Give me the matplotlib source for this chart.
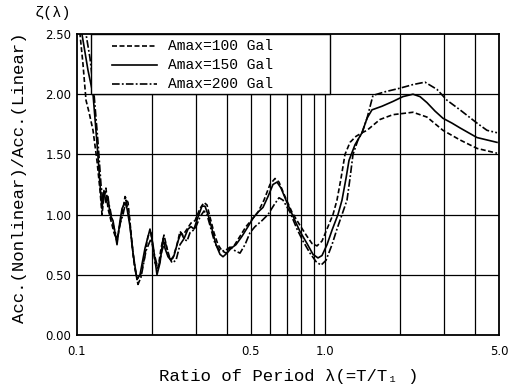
import matplotlib
matplotlib.use('Agg')
import matplotlib.pyplot as plt
from matplotlib.patches import Rectangle
from matplotlib.lines import Line2D
from matplotlib.ticker import FixedLocator, FixedFormatter, NullLocator

# ---------------- data ----------------
lam_100 = [0.1000, 0.1028, 0.1057, 0.1087, 0.1118, 0.1160, 0.1203, 0.1238, 0.1261, 0.1284,
           0.1308, 0.1333, 0.1370, 0.1409, 0.1449, 0.1490, 0.1532, 0.1561, 0.1605, 0.1650,
           0.1696, 0.1744, 0.1793, 0.1860, 0.1931, 0.1986, 0.2061, 0.2119, 0.2179, 0.2240,
           0.2304, 0.2369, 0.2435, 0.2527, 0.2598, 0.2672, 0.2773, 0.2877, 0.2986, 0.3127,
           0.3245, 0.3337, 0.3431, 0.3560, 0.3695, 0.3835, 0.3980, 0.4130, 0.4286, 0.4531,
           0.4790, 0.5064, 0.5353, 0.5659, 0.5983, 0.6269, 0.6505, 0.6878, 0.7338, 0.7903,
           0.8432, 0.8832, 0.9251, 0.9690, 1.0244, 1.0730, 1.1134, 1.1556, 1.1994, 1.2563,
           1.3283, 1.4043, 1.4710, 1.6588, 1.8712, 2.2527, 2.5646, 2.9741, 3.4834, 4.0767,
           4.9078]
zeta_100 = [2.70, 2.50, 2.25, 1.95, 1.85, 1.70, 1.45, 1.20, 1.00, 1.15,
            1.22, 1.05, 0.95, 0.85, 0.78, 0.92, 1.05, 1.15, 1.10, 0.85,
            0.60, 0.47, 0.48, 0.62, 0.82, 0.85, 0.60, 0.55, 0.72, 0.83,
            0.72, 0.63, 0.64, 0.75, 0.86, 0.83, 0.88, 0.93, 0.95, 1.05,
            1.10, 1.08, 0.98, 0.85, 0.75, 0.70, 0.68, 0.72, 0.74, 0.82,
            0.90, 0.96, 1.02, 1.12, 1.25, 1.30, 1.27, 1.15, 1.02, 0.91,
            0.82, 0.76, 0.74, 0.78, 0.90, 1.00, 1.12, 1.30, 1.50, 1.60,
            1.65, 1.68, 1.70, 1.79, 1.83, 1.85, 1.81, 1.70, 1.62, 1.55,
            1.51]

lam_150 = [0.1000, 0.1047, 0.1107, 0.1160, 0.1203, 0.1238, 0.1261, 0.1284, 0.1308, 0.1333,
           0.1358, 0.1396, 0.1449, 0.1490, 0.1518, 0.1561, 0.1590, 0.1635, 0.1681, 0.1744,
           0.1793, 0.1878, 0.1967, 0.2023, 0.2099, 0.2159, 0.2220, 0.2261, 0.2325, 0.2391,
           0.2458, 0.2551, 0.2623, 0.2697, 0.2799, 0.2877, 0.2958, 0.3070, 0.3186, 0.3276,
           0.3368, 0.3495, 0.3627, 0.3765, 0.3871, 0.4018, 0.4169, 0.4365, 0.4616, 0.4880,
           0.5112, 0.5353, 0.5609, 0.5874, 0.6152, 0.6386, 0.6627, 0.7005, 0.7544, 0.7903,
           0.8432, 0.8914, 0.9338, 0.9690, 1.0150, 1.0631, 1.1237, 1.1664, 1.2104, 1.2447,
           1.3156, 1.4043, 1.4710, 1.5401, 1.6900, 1.8712, 2.0526, 2.2527, 2.4035, 2.5646,
           2.7622, 2.9741, 3.2331, 3.4834, 4.0767, 4.4730, 4.9078]
zeta_150 = [2.90, 2.50, 2.20, 2.00, 1.60, 1.25, 1.05, 1.20, 1.10, 1.15,
            1.00, 0.95, 0.75, 0.95, 1.05, 1.10, 1.05, 0.90, 0.68, 0.46,
            0.50, 0.72, 0.88, 0.75, 0.50, 0.60, 0.80, 0.72, 0.65, 0.62,
            0.66, 0.78, 0.85, 0.80, 0.88, 0.90, 0.88, 0.98, 1.07, 1.07,
            1.00, 0.88, 0.75, 0.67, 0.65, 0.68, 0.72, 0.75, 0.82, 0.90,
            0.97, 1.02, 1.06, 1.15, 1.25, 1.27, 1.22, 1.10, 0.95, 0.86,
            0.76, 0.67, 0.64, 0.66, 0.75, 0.87, 1.00, 1.12, 1.30, 1.45,
            1.58, 1.68, 1.80, 1.87, 1.90, 1.94, 1.98, 2.00, 1.98, 1.93,
            1.86, 1.80, 1.76, 1.72, 1.64, 1.62, 1.60]

lam_200 = [0.1000, 0.1077, 0.1128, 0.1171, 0.1215, 0.1249, 0.1273, 0.1296, 0.1321, 0.1358,
           0.1396, 0.1449, 0.1490, 0.1532, 0.1575, 0.1619, 0.1665, 0.1712, 0.1760, 0.1810,
           0.1896, 0.1986, 0.2042, 0.2119, 0.2199, 0.2261, 0.2346, 0.2413, 0.2504, 0.2598,
           0.2697, 0.2773, 0.2851, 0.2986, 0.3127, 0.3245, 0.3337, 0.3463, 0.3594, 0.3765,
           0.3943, 0.4130, 0.4326, 0.4531, 0.4746, 0.4972, 0.5207, 0.5555, 0.5874, 0.6211,
           0.6505, 0.6751, 0.7202, 0.7685, 0.8125, 0.8670, 0.9166, 0.9601, 1.0056, 1.0631,
           1.1134, 1.1664, 1.2217, 1.2563, 1.2916, 1.3527, 1.4043, 1.4710, 1.5545, 1.7377,
           1.9966, 2.2527, 2.5176, 2.8137, 3.0865, 3.4834, 4.0767, 4.4730, 4.9078]
zeta_200 = [3.00, 2.55, 2.30, 2.00, 1.60, 1.25, 1.10, 1.20, 1.15, 1.05,
            0.92, 0.80, 0.92, 1.00, 1.12, 1.00, 0.75, 0.55, 0.42, 0.48,
            0.70, 0.80, 0.68, 0.55, 0.70, 0.78, 0.65, 0.60, 0.62, 0.75,
            0.80, 0.78, 0.85, 0.88, 0.98, 1.03, 1.00, 0.88, 0.76, 0.70,
            0.70, 0.73, 0.70, 0.68, 0.75, 0.85, 0.90, 0.95, 1.00, 1.08,
            1.14, 1.12, 1.02, 0.88, 0.78, 0.68, 0.61, 0.58, 0.62, 0.75,
            0.88, 1.00, 1.12, 1.30, 1.50, 1.62, 1.68, 1.80, 1.99, 2.02,
            2.05, 2.08, 2.10, 2.04, 1.95, 1.87, 1.76, 1.70, 1.68]

series_labels = ['Amax=100 Gal', 'Amax=150 Gal', 'Amax=200 Gal']
x_ticks = [0.1, 0.5, 1.0, 5.0]
x_tick_labels = ['0.1', '0.5', '1.0', '5.0']
y_ticks = [0.0, 0.5, 1.0, 1.5, 2.0, 2.5]
x_grid = [0.2, 0.3, 0.4, 0.5, 0.6, 0.7, 0.8, 0.9, 1.0, 2.0, 3.0, 4.0]
y_grid = [0.5, 1.0, 1.5, 2.0]

# ---------------- figure ----------------
plt.rcParams['lines.scale_dashes'] = False
MONO = ['Liberation Mono', 'DejaVu Sans Mono']

fig = plt.figure(figsize=(5.1, 3.87), dpi=100)
ax = fig.add_axes([77 / 510, 52 / 387, 422 / 510, 301 / 387])
ax.set_xscale('log')
ax.set_xlim(0.1, 5.0)
ax.set_ylim(0, 2.5)

for g in x_grid:
    ax.axvline(g, color='black', lw=0.9, zorder=1)
for g in y_grid:
    ax.axhline(g, color='black', lw=0.9, zorder=1)

styles = [(0, (3.6, 1.8)), '-', (0, (5.5, 1.6, 1.3, 1.6))]
data = [(lam_100, zeta_100), (lam_150, zeta_150), (lam_200, zeta_200)]
for (lx, zy), ls in zip(data, styles):
    ax.plot(lx, zy, color='black', lw=1.2, ls=ls, zorder=3)

ax.xaxis.set_major_locator(FixedLocator(x_ticks))
ax.xaxis.set_major_formatter(FixedFormatter(x_tick_labels))
ax.xaxis.set_minor_locator(NullLocator())
ax.set_yticks(y_ticks)
ax.set_yticklabels(['%.2f' % v for v in y_ticks])
ax.tick_params(axis='both', length=0, labelsize=8.5, colors='black')
ax.tick_params(axis='x', pad=7)
ax.tick_params(axis='y', pad=4)
for s in ax.spines.values():
    s.set_linewidth(1.3)
    s.set_color('black')

# legend box
ax.add_patch(Rectangle((0.033, 0.8), 0.567, 0.2, transform=ax.transAxes,
                       facecolor='white', edgecolor='black', lw=1.0, zorder=4))
rows = [0.96, 0.897, 0.835]
for yy, ls, lab in zip(rows, styles, series_labels):
    ax.add_line(Line2D([0.083, 0.19], [yy, yy], transform=ax.transAxes,
                       color='black', lw=1.2, ls=ls, zorder=5))
    ax.text(0.216, yy, lab, transform=ax.transAxes, va='center', ha='left',
            fontsize=10.5, family=MONO, zorder=5)

fig.text(20 / 510, 1 - 178 / 387, 'Acc.(Nonlinear)/Acc.(Linear)', rotation=90,
         ha='center', va='center', fontsize=12.5, family=MONO)
fig.text(289 / 510, 1 - 376 / 387, 'Ratio of Period λ(=T/T₁ )',
         ha='center', va='center', fontsize=12.5, family=MONO)
fig.text(53 / 510, 1 - 13 / 387, 'ζ(λ)', ha='center', va='center',
         fontsize=11, family=MONO)

fig.savefig('out.png', dpi=100)
